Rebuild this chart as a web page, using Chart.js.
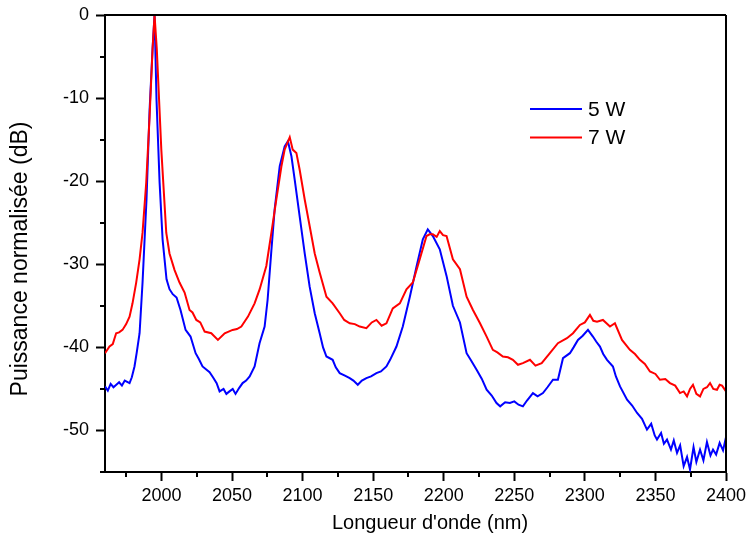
<!DOCTYPE html>
<html><head><meta charset="utf-8">
<script src="https://cdn.jsdelivr.net/npm/chart.js@4.4.1/dist/chart.umd.min.js"></script>
<style>html,body{margin:0;padding:0;background:#fff;overflow:hidden}</style>
</head><body>
<canvas id="c" width="747" height="547"></canvas>
<script>
// ---- data ----
const seriesLabels = ['5 W', '7 W'];
const seriesColors = ['#0000ff', '#ff0000'];
const xTitle = "Longueur d'onde (nm)";
const yTitle = 'Puissance normalisée (dB)';
const xMajorTicks = [2000, 2050, 2100, 2150, 2200, 2250, 2300, 2350, 2400];
const xMinorTicks = [1975, 2025, 2075, 2125, 2175, 2225, 2275, 2325, 2375];
const yMajorTicks = [-50, -40, -30, -20, -10, 0];
const yMinorTicks = [-55, -45, -35, -25, -15, -5];

const wavelength5 = [1960,1962,1964,1966,1968,1970,1972,1974,1977.4,1979,1980.9,1982.5,1984.5,1986.6,1989.4,1991.6,1993.7,1995.1,1996.5,1998.7,2000.8,2003.6,2005.7,2008,2010.7,2013.5,2017.1,2020.6,2024.2,2026.5,2029.1,2034.1,2036.5,2039.1,2041.2,2044,2046,2048.2,2050.5,2052.5,2055,2057.5,2060,2062.5,2066,2069.5,2073.1,2075.2,2077.9,2080.2,2083.8,2087.3,2089.6,2092.1,2094.4,2097.9,2101.5,2105,2108.6,2112.1,2114.5,2116.9,2121.3,2123.5,2126.3,2130,2133.4,2136,2139.1,2142,2145.2,2148.5,2152.3,2155.5,2159.4,2162,2166.5,2171,2176,2180.7,2185.2,2188.7,2192.3,2197.2,2202,2206.5,2211.5,2216.2,2219.5,2223.3,2227,2230.4,2234,2237.4,2240,2243.5,2246.9,2250,2253,2256.1,2259,2263.2,2266.5,2270.3,2273.5,2277.4,2280.9,2284.5,2289.4,2292,2295.1,2298.5,2302.2,2305.7,2308,2310.7,2313,2315.7,2319.9,2322,2324.9,2329.9,2333.5,2337,2340.5,2344,2347,2349.5,2351.1,2354,2356,2358.2,2361,2363,2365.3,2367.5,2370,2372.4,2374.5,2377,2379,2381.6,2384,2386.5,2389,2390.8,2393,2395.5,2397.9,2400];
const power5 = [-44.7,-45.2,-44.4,-44.8,-44.5,-44.2,-44.6,-44.0,-44.3,-43.6,-42.3,-40.6,-38.3,-32.2,-22.2,-11.4,-4.1,0,-10.2,-20.2,-27,-31.8,-33,-33.6,-34,-35.5,-37.9,-38.7,-40.7,-41.4,-42.3,-43.0,-43.6,-44.3,-45.3,-45.0,-45.6,-45.3,-45.0,-45.6,-44.9,-44.3,-44.0,-43.5,-42.3,-39.5,-37.5,-34.3,-28.3,-23.4,-18.2,-15.8,-15.2,-17,-19.8,-24.2,-28.7,-32.7,-35.9,-38.3,-40.0,-41.1,-41.5,-42.4,-43.1,-43.4,-43.7,-44.0,-44.5,-44.0,-43.7,-43.5,-43.1,-42.9,-42.3,-41.5,-39.9,-37.5,-33.9,-30.3,-27,-25.8,-26.6,-28.2,-31.4,-35,-37,-40.7,-41.6,-42.7,-43.8,-45.1,-45.8,-46.7,-47.1,-46.6,-46.7,-46.5,-46.9,-47.1,-46.4,-45.5,-45.9,-45.5,-44.8,-43.9,-43.9,-41.3,-40.7,-40.0,-39.1,-38.6,-37.9,-38.7,-39.3,-39.9,-40.8,-41.5,-42.3,-43.5,-44.7,-46.3,-47.0,-47.9,-48.6,-49.9,-49.2,-50.6,-51.1,-50.3,-51.6,-51.1,-52.3,-51.2,-52.7,-51.8,-54.3,-53.2,-54.7,-52.0,-53.8,-52.3,-53.6,-51.4,-53.0,-52.3,-52.9,-51.5,-52.4,-50.8];

const wavelength7 = [1960,1963.2,1965.5,1967.9,1970,1972.4,1975,1977.4,1979.5,1982.1,1984.5,1986.6,1989.2,1991.6,1993.7,1995.1,1996.7,1999.9,2003.4,2005.7,2009.3,2012.8,2016.4,2019.9,2022,2024.7,2027.5,2030.6,2035.3,2040,2044.8,2050.4,2053.5,2056.6,2061.3,2066,2069.6,2074.3,2077.9,2081.4,2085,2087.3,2090.9,2093,2095.6,2097.9,2101.5,2105,2108.6,2112.1,2116.9,2121.3,2126.3,2129.5,2133.4,2137,2140.5,2145.2,2149,2152.3,2156,2159.4,2163.9,2168.9,2173.6,2178.1,2183,2187.8,2190,2192.3,2195,2197.2,2199.5,2202,2206.5,2211.5,2216.2,2220.7,2225.7,2230.4,2234.8,2238,2241.9,2245.5,2249,2252.6,2256.1,2261.1,2265,2269.4,2275.2,2280.9,2287.3,2291.6,2296.5,2300,2303.6,2306,2308.6,2312.8,2317.8,2321.3,2326.3,2331.9,2335.5,2339,2342.5,2346.1,2350,2353.2,2357,2360.3,2364,2367.4,2370,2372.4,2374.5,2376.6,2379,2381.6,2384,2386.5,2388.7,2391,2393.6,2395.5,2397.2,2400];
const power7 = [-40.7,-39.9,-39.6,-38.3,-38.2,-37.9,-37.2,-36.3,-34.7,-32.2,-29.4,-26.2,-20.2,-12.2,-4.1,0,-4.1,-16.2,-26.2,-28.7,-30.7,-32.2,-33.4,-35.5,-35.8,-36.7,-37.0,-38.1,-38.3,-39.1,-38.3,-37.9,-37.8,-37.5,-36.3,-34.7,-33.0,-30.2,-26.2,-22.2,-18.2,-16.2,-14.7,-16.2,-16.6,-18.6,-22.2,-25.4,-28.7,-31,-33.9,-34.7,-35.9,-36.7,-37.1,-37.2,-37.5,-37.7,-37.0,-36.7,-37.4,-37.1,-35.3,-34.7,-33,-32.2,-29.4,-26.6,-26.4,-26.4,-26.7,-26.0,-26.5,-26.6,-29.4,-30.6,-33.9,-35.5,-37.1,-38.7,-40.3,-40.6,-41.1,-41.2,-41.5,-42.1,-41.9,-41.5,-42.2,-41.9,-40.7,-39.5,-38.9,-38.3,-37.3,-37.0,-36.1,-36.8,-36.9,-36.7,-37.5,-37.1,-39.1,-40.3,-40.8,-41.5,-42.0,-42.9,-43.2,-43.9,-43.8,-44.3,-44.6,-45.5,-45.3,-45.9,-45.0,-44.5,-45.6,-45.9,-45.0,-44.8,-44.3,-45.0,-45.1,-44.5,-44.6,-45.3];

// ---- build ----
const toPoints = (xs, ys) => xs.map((v, i) => ({x: v, y: ys[i]}));
const FONT = "'Liberation Sans', Arial, Helvetica, sans-serif";

const framePlugin = {
  id: 'frame',
  afterDraw(chart) {
    const {ctx, chartArea: a, scales: {x, y}} = chart;
    ctx.save();
    ctx.strokeStyle = '#000';
    ctx.lineWidth = 2;
    ctx.beginPath();
    ctx.moveTo(a.left, a.top); ctx.lineTo(a.right, a.top);
    ctx.moveTo(a.right, a.top); ctx.lineTo(a.right, a.bottom);
    xMinorTicks.forEach(v => { const p = Math.round(x.getPixelForValue(v)); ctx.moveTo(p, a.bottom); ctx.lineTo(p, a.bottom + 5); });
    yMinorTicks.forEach(v => { const p = Math.round(y.getPixelForValue(v)); ctx.moveTo(a.left, p); ctx.lineTo(a.left - 5, p); });
    ctx.stroke();

    // axis titles
    ctx.fillStyle = '#000';
    ctx.textAlign = 'center';
    ctx.textBaseline = 'middle';
    ctx.font = '20px ' + FONT;
    ctx.fillText(xTitle, a.left + 325, a.bottom + 51);
    ctx.save();
    ctx.translate(21, a.top + 244);
    ctx.rotate(-Math.PI / 2);
    ctx.font = '23px ' + FONT;
    ctx.fillText(yTitle, 0, 0);
    ctx.restore();

    // legend
    const order = [1, 0];
    const lx = a.left + 425;
    const ly0 = a.top + 94;
    order.forEach((di, k) => {
      const ds = chart.data.datasets[di];
      const yy = ly0 + k * 28.5;
      ctx.strokeStyle = ds.borderColor;
      ctx.lineWidth = 2;
      ctx.beginPath(); ctx.moveTo(lx, yy); ctx.lineTo(lx + 52, yy); ctx.stroke();
      ctx.fillStyle = '#000';
      ctx.font = '21px ' + FONT;
      ctx.textBaseline = 'middle';
      ctx.textAlign = 'left';
      ctx.fillText(ds.label, lx + 58, yy + 1);
    });
    ctx.restore();
  }
};

const noOverflow = s => { s.paddingLeft = 0; s.paddingRight = 0; s.paddingTop = 0; s.paddingBottom = 0; };

new Chart(document.getElementById('c'), {
  type: 'line',
  data: {
    datasets: [
      {label: seriesLabels[1], data: toPoints(wavelength7, power7), borderColor: seriesColors[1], borderWidth: 2, pointRadius: 0, tension: 0, order: 0},
      {label: seriesLabels[0], data: toPoints(wavelength5, power5), borderColor: seriesColors[0], borderWidth: 2, pointRadius: 0, tension: 0, order: 1}
    ]
  },
  options: {
    responsive: false,
    animation: false,
    devicePixelRatio: 1,
    layout: {padding: {left: 0, right: 21, top: 15, bottom: 0}},
    plugins: {legend: {display: false}, tooltip: {enabled: false}},
    scales: {
      x: {
        type: 'linear', min: 1960, max: 2400,
        afterFit: s => { s.height = 75; noOverflow(s); },
        afterBuildTicks: s => { s.ticks = xMajorTicks.map(v => ({value: v})); },
        ticks: {font: {family: FONT, size: 18}, color: '#000', padding: 4, maxRotation: 0, autoSkip: false, callback: v => String(v)},
        grid: {drawOnChartArea: false, drawTicks: true, tickLength: 9, tickWidth: 2, tickColor: '#000'},
        border: {display: true, color: '#000', width: 2},
        title: {display: false}
      },
      y: {
        type: 'linear', min: -55, max: 0,
        afterFit: s => { s.width = 105; noOverflow(s); },
        afterBuildTicks: s => { s.ticks = yMajorTicks.map(v => ({value: v})); },
        ticks: {font: {family: FONT, size: 18}, color: '#000', padding: 7, autoSkip: false, callback: v => String(v)},
        grid: {drawOnChartArea: false, drawTicks: true, tickLength: 9, tickWidth: 2, tickColor: '#000'},
        border: {display: true, color: '#000', width: 2},
        title: {display: false}
      }
    }
  },
  plugins: [framePlugin]
});
</script>
</body></html>
